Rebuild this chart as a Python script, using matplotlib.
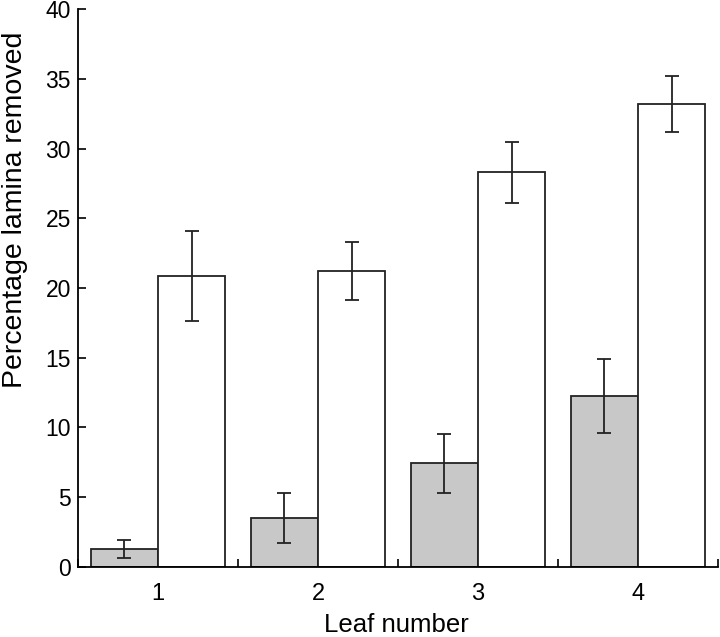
import numpy as np
import matplotlib
matplotlib.use("Agg")
import matplotlib.pyplot as plt

plt.rcParams["font.family"] = ["Liberation Sans", "DejaVu Sans"]

leaves = [1, 2, 3, 4]
gray_mean = [1.28, 3.52, 7.42, 12.23]
gray_lo = [0.63, 1.70, 5.27, 9.60]
gray_hi = [1.94, 5.29, 9.55, 14.91]
white_mean = [20.89, 21.23, 28.31, 33.17]
white_lo = [17.66, 19.15, 26.13, 31.16]
white_hi = [24.12, 23.29, 30.47, 35.18]

x = np.array(leaves, dtype=float)
w = 0.42

fig = plt.figure(figsize=(7.2, 6.37), dpi=100)
ax = fig.add_axes([0.1083, 0.1104, 0.8889, 0.875])

g_err = [np.array(gray_mean) - gray_lo, np.array(gray_hi) - gray_mean]
w_err = [np.array(white_mean) - white_lo, np.array(white_hi) - white_mean]
ekw = dict(elinewidth=1.3, capthick=1.3, ecolor="#222222")
ax.bar(x - w / 2, gray_mean, w, color="#c8c8c8", edgecolor="#222222", linewidth=1.3,
       yerr=g_err, capsize=5, error_kw=ekw)
ax.bar(x + w / 2, white_mean, w, color="white", edgecolor="#222222", linewidth=1.3,
       yerr=w_err, capsize=5, error_kw=ekw)

ax.set_xlim(0.5, 4.5)
ax.set_ylim(0, 40)
ax.set_yticks(range(0, 41, 5))
ax.set_xticks(leaves)
ax.set_xticks([0.5, 1.5, 2.5, 3.5, 4.5], minor=True)
ax.tick_params(axis="x", which="major", length=0, pad=12, labelsize=17)
ax.tick_params(axis="x", which="minor", direction="in", length=6, width=1.2)
ax.tick_params(axis="y", direction="in", length=6, width=1.2, labelsize=16.5, pad=5)

for s in ["top", "right"]:
    ax.spines[s].set_visible(False)
for s in ["left", "bottom"]:
    ax.spines[s].set_linewidth(1.3)

ax.set_xlabel("Leaf number", fontsize=18.5)
ax.xaxis.set_label_coords(0.497, -0.126)
ax.xaxis.label.set_va("bottom")
ax.set_ylabel("Percentage lamina removed", fontsize=20.5)
ax.yaxis.set_label_coords(-0.078, 0.641)

plt.savefig("out.png", dpi=100)
